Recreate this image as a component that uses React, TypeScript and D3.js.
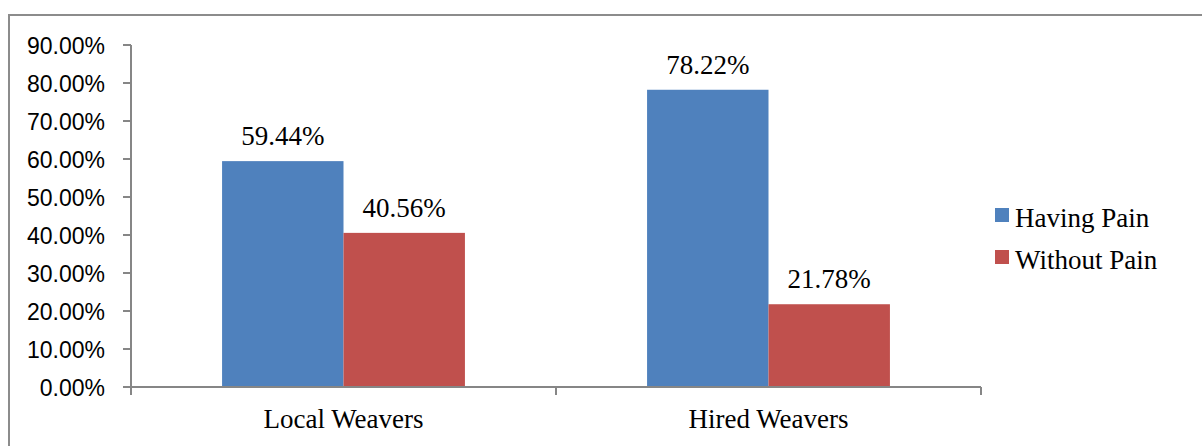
import React from "react";
import * as d3 from "d3";

const categories = ["Local Weavers", "Hired Weavers"];
const seriesNames = ["Having Pain", "Without Pain"];
const havingPain = [59.44, 78.22];
const withoutPain = [40.56, 21.78];
const yTicks = [0, 10, 20, 30, 40, 50, 60, 70, 80, 90];
const colors = ["#4F81BD", "#C0504D"];

const W = 1202;
const H = 446;
const plot = { left: 131, right: 981, top: 45, bottom: 387 };
const axisColor = "#868686";
const serif = "'Liberation Serif', 'Times New Roman', serif";
const sans = "'Liberation Sans', Arial, sans-serif";

export default function App() {
  const x = d3.scaleBand<string>().domain(categories).range([plot.left, plot.right]).paddingInner(0).paddingOuter(0);
  const inner = d3.scaleBand<string>().domain(seriesNames).range([0, x.bandwidth()]).paddingInner(0).paddingOuter(0.75);
  const y = d3.scaleLinear().domain([0, 90]).range([plot.bottom, plot.top]);
  const series = [havingPain, withoutPain];
  const fmt = (v: number) => v.toFixed(2) + "%";

  const boundaries = [plot.left, ...categories.map((c) => (x(c) as number) + x.bandwidth())];

  return (
    <svg width={W} height={H} style={{ position: "absolute", left: 0, top: 0, background: "#fff" }}>
      <rect x={9} y={15} width={W + 20} height={H + 20} fill="#fff" stroke="#8c8c8c" strokeWidth={2} />

      {/* bars */}
      {categories.map((c, ci) =>
        seriesNames.map((s, si) => {
          const v = series[si][ci];
          const bx = (x(c) as number) + (inner(s) as number);
          return (
            <rect key={c + s} x={bx} y={y(v)} width={inner.bandwidth()} height={y(0) - y(v)} fill={colors[si]} />
          );
        })
      )}

      {/* value labels */}
      {categories.map((c, ci) =>
        seriesNames.map((s, si) => {
          const v = series[si][ci];
          const cx = (x(c) as number) + (inner(s) as number) + inner.bandwidth() / 2;
          return (
            <text key={"l" + c + s} x={cx} y={y(v) - 16} textAnchor="middle" fontFamily={serif} fontSize={27} fill="#000">
              {fmt(v)}
            </text>
          );
        })
      )}

      {/* y axis */}
      <line x1={plot.left} x2={plot.left} y1={plot.top} y2={plot.bottom} stroke={axisColor} strokeWidth={2} />
      {yTicks.map((t) => (
        <g key={t}>
          <line x1={plot.left - 8} x2={plot.left} y1={y(t)} y2={y(t)} stroke={axisColor} strokeWidth={2} />
          <text x={105} y={y(t) + 8.5} textAnchor="end" fontFamily={sans} fontSize={23} fill="#000">
            {t.toFixed(2) + "%"}
          </text>
        </g>
      ))}

      {/* x axis */}
      <line x1={plot.left} x2={plot.right} y1={plot.bottom} y2={plot.bottom} stroke={axisColor} strokeWidth={2} />
      {boundaries.map((b) => (
        <line key={b} x1={b} x2={b} y1={plot.bottom} y2={plot.bottom + 8} stroke={axisColor} strokeWidth={2} />
      ))}
      {categories.map((c) => (
        <text key={c} x={(x(c) as number) + x.bandwidth() / 2} y={428} textAnchor="middle" fontFamily={serif} fontSize={27} fill="#000">
          {c}
        </text>
      ))}

      {/* legend */}
      {seriesNames.map((s, i) => (
        <g key={s} transform={`translate(995, ${208 + i * 42})`}>
          <rect x={0} y={0} width={14} height={14} fill={colors[i]} />
          <text x={20} y={19} fontFamily={serif} fontSize={27} fill="#000">
            {s}
          </text>
        </g>
      ))}
    </svg>
  );
}
